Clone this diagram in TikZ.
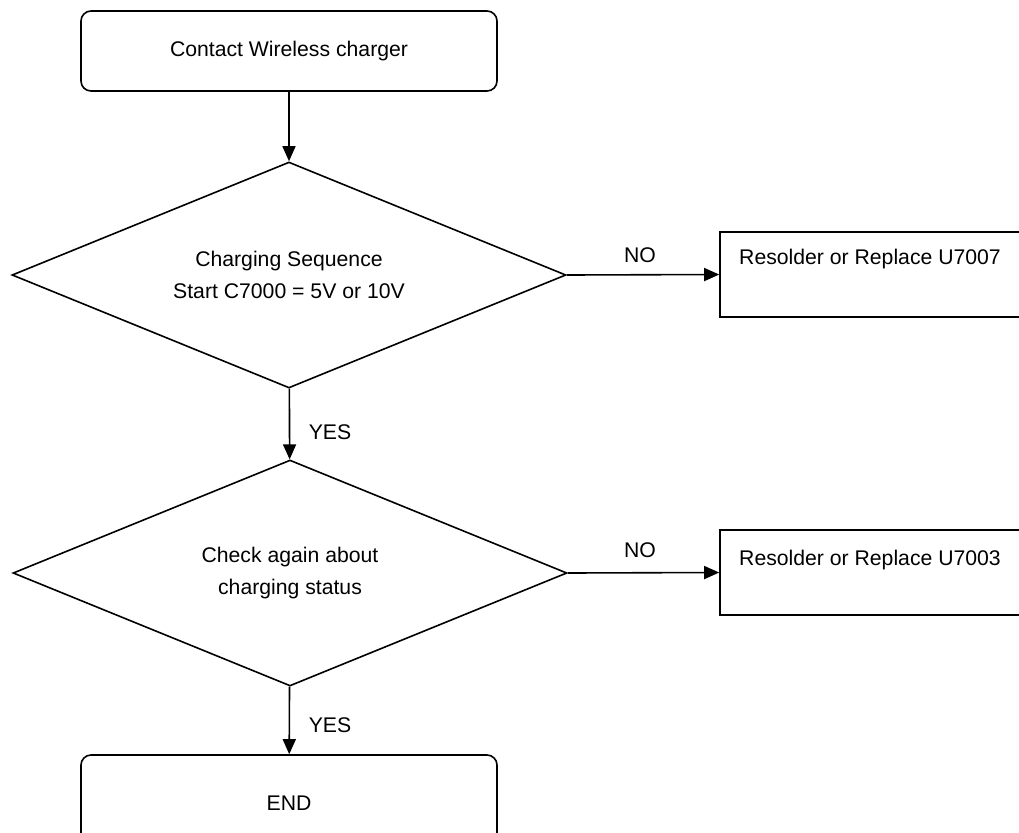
\documentclass[tikz,border=0pt]{standalone}
\usepackage{fontspec}
\setmainfont{Liberation Sans}
\usetikzlibrary{positioning,shapes.geometric,arrows.meta}

\begin{document}
\begin{tikzpicture}[x=0.5pt,y=-0.5pt,
          every node/.style={font=\fontsize{10.6}{12.7}\selectfont},
          endbox/.style={draw,rounded corners=5pt,line width=0.8pt,minimum width=208pt,minimum height=40pt},
          check/.style={draw,diamond,aspect=2.4,line width=0.8pt,minimum width=277pt,minimum height=113pt,inner sep=0pt,align=center},
          fixbox/.style={draw,line width=0.8pt,minimum width=160pt,minimum height=42.5pt},
          arr/.style={line width=0.8pt,-{Triangle[length=7.5pt,width=6.5pt]}},
        ]
        \useasboundingbox (0,0) rectangle (1019,832);
        \clip (0,0) rectangle (1019,832);
        \node[endbox] (start) at (289,51) {Contact Wireless charger};
        \node[check] (chka) at (289,275) {Charging Sequence\\[3.3pt]Start C7000 = 5V or 10V};
        \node[check] (chkb) at (290,573) {Check again about\\[3.3pt]charging status};
        \node[endbox,minimum height=48.5pt] (stop) at (289,803.5) {END};
        \node[fixbox] (fixa) at (880,274.5) {};
        \node (fixatxt) at (870,259) {Resolder or Replace U7007};
        \node[fixbox] (fixb) at (880,572.5) {};
        \node (fixbtxt) at (870,560) {Resolder or Replace U7003};
        \node (noa) at (640,255) {NO};
        \node (nob) at (640,550) {NO};
        \node (yesa) at (330,432) {YES};
        \node (yesb) at (330,725) {YES};
        \draw[arr] (start) -- (chka);
        \draw[arr] (chka) -- (chkb);
        \draw[arr] (chkb) -- (stop);
        \draw[arr] (chka.east) -- (fixa.west);
        \draw[arr] (chkb.east) -- (fixb.west);
      \end{tikzpicture}
\end{document}
